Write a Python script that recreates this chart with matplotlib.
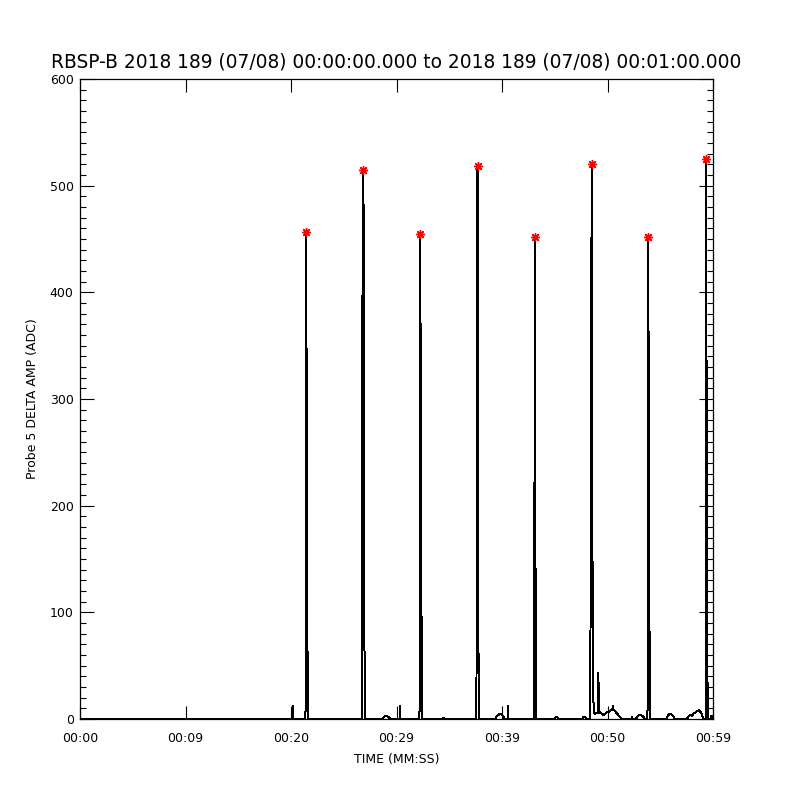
import matplotlib
matplotlib.use("Agg")
import matplotlib.pyplot as plt
from matplotlib.ticker import MultipleLocator, FixedLocator, FixedFormatter

# ---- data (seconds after 00:00:00, ADC counts) ----
trace_t = [
    0.00, 20.21, 20.22, 20.23,
    21.36, 21.37, 21.41, 21.43, 21.45, 21.50, 21.60,
    26.74, 26.77, 26.87, 26.90, 27.00, 27.03,
    28.63, 28.80, 29.00, 29.20, 29.45,
    30.35, 30.36, 30.37,
    32.17, 32.18, 32.22, 32.24, 32.26, 32.31, 32.44,
    34.35, 34.40, 34.50, 34.55,
    37.58, 37.61, 37.68, 37.71, 37.80, 37.83,
    39.34, 39.50, 39.70, 39.85, 40.00, 40.15, 40.28,
    40.53, 40.54, 40.55,
    43.03, 43.04, 43.07, 43.09, 43.12, 43.16, 43.23,
    44.96, 45.10, 45.17, 45.25, 45.37,
    47.58, 47.70, 47.80, 47.90, 48.03,
    48.38, 48.42, 48.55, 48.58, 48.64, 48.70, 48.82, 49.10,
    49.13, 49.16, 49.22, 49.29, 49.60, 49.92, 50.24, 50.46, 50.54,
    50.55, 50.56, 50.87, 51.18, 51.37,
    52.28, 52.29, 52.30,
    52.70, 52.85, 53.00, 53.13, 53.30, 53.45, 53.55,
    53.76, 53.77, 53.81, 53.84, 53.87, 53.92, 54.03,
    55.55, 55.70, 55.85, 55.97, 56.10, 56.25, 56.40,
    57.51, 57.82, 58.00, 58.13, 58.46, 58.70, 58.93, 59.08,
    59.29, 59.32, 59.37, 59.40, 59.48, 59.52,
    59.75, 59.85, 59.95, 60.00,
]
trace_v = [
    0, 0, 12, 0,
    0, 7, 7, 405, 457, 178, 0,
    0, 388, 515, 131, 25, 0,
    0, 2, 2.8, 2, 0,
    0, 12, 0,
    0, 7, 7, 407, 455, 179, 0,
    0, 1, 1, 0,
    0, 388, 518, 130, 27, 0,
    0, 2.5, 4.2, 4.7, 3.8, 2, 0,
    0, 12, 0,
    0, 7, 7, 407, 452, 182, 0,
    0, 1.6, 2, 1.6, 0,
    0, 1.6, 2, 1.6, 0,
    0, 386, 520, 128, 28, 6, 5, 6,
    43, 28, 7, 6, 3.7, 6, 7.5, 9.1, 9.3,
    12, 9, 5.6, 1.9, 0,
    0, 2, 0,
    0, 2.5, 3.6, 3.8, 3, 1.5, 0,
    0, 8, 8, 411, 452, 187, 0,
    0, 2.8, 4.3, 4.7, 4, 2.2, 0,
    0, 3.8, 3, 5, 6.9, 8.4, 5, 0,
    0, 390, 525, 128, 33, 0,
    0, 3, 0, 0,
]
peak_t = [21.45, 26.87, 32.26, 37.68, 43.12, 48.55, 53.87, 59.37]
peak_v = [457, 515, 455, 518, 452, 520, 452, 525]

xtick_vals = [0, 10, 20, 30, 40, 50, 60]
xtick_labels = ["00:00", "00:09", "00:20", "00:29", "00:39", "00:50", "00:59"]

title = "RBSP-B 2018 189 (07/08) 00:00:00.000 to 2018 189 (07/08) 00:01:00.000"

# ---- figure ----
plt.rcParams['font.family'] = ['DejaVu Sans']
fig = plt.figure(figsize=(8, 8), dpi=100)
ax = fig.add_axes([0.1, 0.10125, 0.79125, 0.8])

ax.plot(trace_t, trace_v, color='black', lw=0.72, antialiased=False)
ax.plot(peak_t, peak_v, linestyle='none', marker=(8, 2, 0), color='red',
        markersize=6.5, markeredgewidth=1.0)

ax.set_xlim(0, 60)
ax.set_ylim(0, 600)

ax.xaxis.set_major_locator(FixedLocator(xtick_vals))
ax.xaxis.set_major_formatter(FixedFormatter(xtick_labels))
ax.yaxis.set_major_locator(MultipleLocator(100))
ax.yaxis.set_minor_locator(MultipleLocator(10))

ax.tick_params(axis='x', which='major', direction='in', top=True, bottom=True,
               length=9.5, width=0.8, pad=9, labelsize=9)
ax.tick_params(axis='y', which='major', direction='in', left=True, right=True,
               length=10, width=0.8, pad=4.5, labelsize=9)
ax.tick_params(axis='y', which='minor', direction='in', left=True, right=True,
               length=4.3, width=0.8)
for s in ax.spines.values():
    s.set_linewidth(0.9)

ax.set_title(title, fontsize=13.4, pad=8)
ax.set_xlabel("TIME (MM:SS)", fontsize=9, labelpad=6)
ax.set_ylabel("Probe 5 DELTA AMP (ADC)", fontsize=9, labelpad=7.5)

fig.savefig("out.png", dpi=100, facecolor='white')
